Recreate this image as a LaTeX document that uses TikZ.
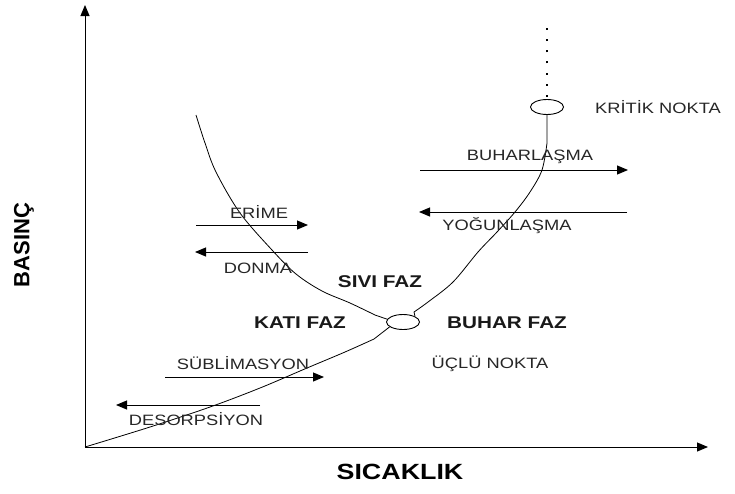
\documentclass[tikz,border=0pt]{standalone}
\usepackage{fontspec}
\setmainfont{Liberation Sans}[FakeStretch=1.22]
\newfontfamily\vfont{Liberation Sans}
\usetikzlibrary{arrows.meta,shapes.geometric}
\begin{document}
\begin{tikzpicture}[x=1pt,y=-1pt,
  lab/.style={inner sep=0pt,font=\fontsize{15}{18}\selectfont,text=black!85},
  blab/.style={inner sep=0pt,font=\fontsize{17}{20}\selectfont\bfseries,text=black!90},
  axlab/.style={inner sep=0pt,font=\fontsize{22}{26}\selectfont\bfseries},
  pt/.style={draw,ellipse,line width=0.9pt,minimum width=33pt,minimum height=15pt,inner sep=0pt,fill=white},
  curve/.style={line width=0.8pt},
  arr/.style={line width=1pt,-{Triangle[length=11pt,width=9pt]}}]
\useasboundingbox (0,0) rectangle (735,493);
% axes
\coordinate (O) at (85,447);
\coordinate (ytop) at (85,5);
\coordinate (xend) at (708,447);
\draw[arr] (O) -- (ytop);
\draw[arr] (O) -- (xend);
% points
\node[pt] (tp) at (403,322) {};
\node[pt] (cp) at (547,107) {};
\coordinate (dtop) at (547,21);
% curves
\draw[curve] (O) plot[smooth,tension=0.55] coordinates {(85,447) (150,427) (210,407) (260,388) (307,368) (345,352) (374,339)} -- (tp.-160);
\draw[curve] (tp.170) -- plot[smooth,tension=0.55] coordinates {(375,315) (350,303) (322,291) (296,274) (272,250) (240,213) (216,172) (205,143) (196,115)};
\draw[curve] (cp.south) -- (547,143) plot[smooth,tension=0.55] coordinates {(547,143) (542,170) (530,192) (515,212) (497,232) (478,252) (453,282) (428,302) (414,312)} -- (tp.25);
\draw[line width=2pt,dash pattern=on 2pt off 9.2pt] (cp.north) ++(0,-2) -- (dtop);
% process arrows
\coordinate (e1) at (196,225); \coordinate (e2) at (308,225);
\draw[arr] (e1) -- (e2);
\coordinate (d1) at (308,252); \coordinate (d2) at (195,252);
\draw[arr] (d1) -- (d2);
\coordinate (s1) at (165,377); \coordinate (s2) at (324,377);
\draw[arr] (s1) -- (s2);
\coordinate (r1) at (260,405); \coordinate (r2) at (116,405);
\draw[arr] (r1) -- (r2);
\coordinate (b1) at (420,170); \coordinate (b2) at (628,170);
\draw[arr] (b1) -- (b2);
\coordinate (y1) at (627,212); \coordinate (y2) at (419,212);
\draw[arr] (y1) -- (y2);
% labels
\node[lab] (erime) at (259,212) {ERİME};
\node[lab] (donma) at (258,268) {DONMA};
\node[lab] (subl) at (243,363) {SÜBLİMASYON};
\node[lab] (deso) at (196,419) {DESORPSİYON};
\node[lab] (buhl) at (530,157) {BUHARLAŞMA};
\node[lab] (yog) at (507,226) {YOĞUNLAŞMA};
\node[lab] (krit) at (658,107) {KRİTİK NOKTA};
\node[lab] (uclu) at (490,364) {ÜÇLÜ NOKTA};
\node[blab] (sivi) at (380,282) {SIVI FAZ};
\node[blab] (kati) at (300,323) {KATI FAZ};
\node[blab] (buhar) at (507,323) {BUHAR FAZ};
\node[axlab] (sic) at (400,472) {SICAKLIK};
\node[axlab,font=\vfont\fontsize{22}{26}\selectfont\bfseries,rotate=90] (bas) at (24,245) {BASINÇ};
\end{tikzpicture}
\end{document}
